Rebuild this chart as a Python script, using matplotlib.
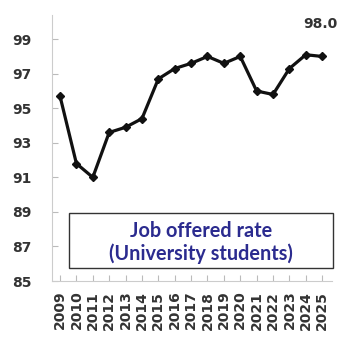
import matplotlib
matplotlib.use("Agg")
import matplotlib.pyplot as plt
from matplotlib.patches import Rectangle

years = [str(y) for y in range(2009, 2026)]
rates = [95.7, 91.8, 91.0, 93.6, 93.9, 94.4, 96.7, 97.3, 97.6, 98.0,
         97.6, 98.0, 96.0, 95.8, 97.3, 98.1, 98.0]
yticks = [85, 87, 89, 91, 93, 95, 97, 99]
last_label = "98.0"
box_text = "Job offered rate\n(University students)"

fig = plt.figure(figsize=(3.38, 3.38), dpi=100)
ax = fig.add_axes([52/338, 1-281/338, 280/338, 266/338])
x = list(range(len(years)))
ax.plot(x, rates, color="#111111", lw=2.3, marker="D", ms=4, zorder=3)

ax.set_xlim(-0.49, len(years) - 1 + 0.6)
ax.set_ylim(85, 100.4)
ax.set_yticks(yticks)
ax.set_yticklabels([str(v) for v in yticks], fontsize=10, fontweight="bold", color="#333333")
ax.set_xticks(x)
ax.set_xticklabels(years, rotation=90, fontsize=10, fontweight="bold", color="#333333")
ax.tick_params(axis="both", direction="in", length=4, color="#bbbbbb", width=0.8)
ax.tick_params(axis="y", pad=15)
ax.tick_params(axis="x", pad=7)
for s in ["top", "right"]:
    ax.spines[s].set_visible(False)
for s in ["left", "bottom"]:
    ax.spines[s].set_color("#cccccc")
    ax.spines[s].set_linewidth(0.8)

ax.annotate(last_label, (x[-1], rates[-1]), xytext=(-1, 18), textcoords="offset points",
            ha="center", va="bottom", fontsize=10, fontweight="bold", color="#333333",
            annotation_clip=False)

# text box in figure pixel coords
bx0, bx1, by0, by1 = 69, 333, 213, 268
fig.patches.append(Rectangle((bx0/338, 1-by1/338), (bx1-bx0)/338, (by1-by0)/338,
                             transform=fig.transFigure, fill=True, facecolor="white",
                             edgecolor="#333333", lw=1.0, zorder=5))
fig.text((bx0+bx1)/2/338, 1-(by0+by1)/2/338 - 2/338, box_text, ha="center", va="center",
         fontsize=14.3, fontweight="bold", color="#2b2b8f", family=["Lato", "DejaVu Sans"],
         linespacing=1.12, zorder=6)

fig.savefig("out.png", dpi=100)
